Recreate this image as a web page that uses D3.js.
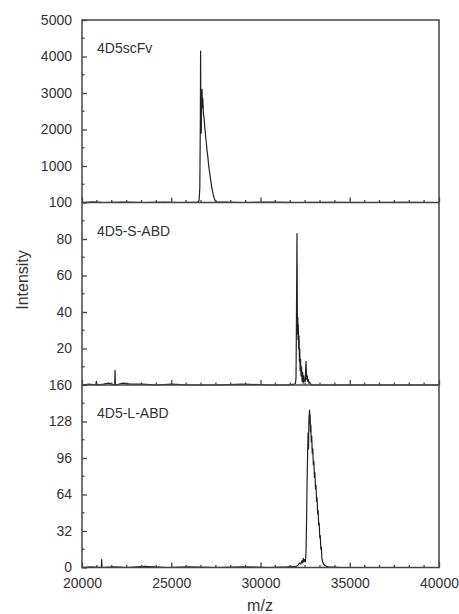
<!DOCTYPE html>
<html>
<head>
<meta charset="utf-8">
<script src="https://cdn.jsdelivr.net/npm/d3@7"></script>
<style>
  body { margin:0; background:#fff; }
  text { font-family: "Liberation Sans", Arial, sans-serif; fill:#333; }
</style>
</head>
<body>
<div id="chart"></div>
<script>
// m/z and intensity
let scfvMz  = [20000,20600,21200,22400,23500,24600,25500,26200,26500,26560,26600,26630,26645,26660,26680,26700,26725,26745,26770,26800,26840,26880,26920,26960,27000,27050,27100,27150,27200,27250,27300,27350,27400,27450,27520,28000,29000,30500,32000,34000,36000,38000,40000]
let scfvInt = [0,15,0,10,0,12,0,5,10,60,400,2200,4150,2400,1900,2700,3100,2600,2850,2450,2300,2050,1850,1650,1450,1250,1000,820,640,480,340,220,130,60,15,8,0,10,0,5,0,5,0]

let sAbdMz  = [20000,20400,20780,20800,20820,21200,21500,21830,21850,21870,22300,22700,23400,24200,25000,26000,27500,29000,30500,31500,31900,31960,31990,32010,32030,32045,32060,32075,32090,32105,32120,32140,32160,32180,32200,32220,32245,32270,32300,32330,32360,32390,32420,32450,32480,32510,32530,32550,32570,32595,32620,32650,32680,32710,32750,32800,32900,33500,35000,37000,40000]
let sAbdInt = [0,0.5,0,2,0,0.5,1,0,8,0,1,0.5,0.5,0,0.5,0,0,0.5,0,0,0.5,1,4,30,62,83,46,28,37,25,33,20,27,13,20,8,14,5,10,2,7,1,5,2,3,2,9,13,7,3,5,2,3,1,1.5,0.5,0,0,0,0,0]

let lAbdMz  = [20000,20500,21080,21100,21120,21800,22500,23500,24800,26000,27500,29000,30500,31500,32000,32100,32200,32260,32320,32360,32400,32440,32480,32520,32550,32580,32610,32640,32665,32690,32710,32730,32750,32765,32780,32800,32820,32845,32870,32900,32930,32960,32990,33020,33050,33080,33110,33140,33170,33200,33230,33260,33290,33320,33350,33380,33410,33440,33480,33530,33600,33700,33800,34500,36000,38000,40000]
let lAbdInt = [0,0.5,0,7,0,0.5,0,1,0,0.5,0,0.5,0,0.5,1,2,4,3,6,4,8,5,7,5,14,40,75,100,118,104,128,134,138,126,134,119,125,110,115,100,104,90,93,79,83,69,72,58,61,47,50,37,39,26,28,16,18,8,5,3,2,1,0.5,0,0,0,0]

let panelLabels = ["4D5scFv","4D5-S-ABD","4D5-L-ABD"]
let yMaxes   = [5000,100,160]
let yMajors  = [1000,20,32]
let yLabeled = [[1000,2000,3000,4000,5000],[20,40,60,80,100],[0,32,64,96,128,160]]
let xMajorTicks = [20000,25000,30000,35000,40000]

let series = [
  scfvMz.map((m,i)=>({mz:m, v:scfvInt[i]})),
  sAbdMz.map((m,i)=>({mz:m, v:sAbdInt[i]})),
  lAbdMz.map((m,i)=>({mz:m, v:lAbdInt[i]}))
]

let width = 459, height = 614,
    plotLeft = 82, plotRight = 439, plotTop = 20, panelH = 182.5

let svg = d3.select("#chart").append("svg").attr("width",width).attr("height",height)

let xScale = d3.scaleLinear().domain([20000,40000]).range([plotLeft,plotRight])
let xMinor = d3.range(0,25).map(i => 20000 + i*5000/6).filter(v => xMajorTicks.indexOf(Math.round(v)) < 0)

series.forEach((data,p)=>{
  let y0 = plotTop + panelH*p, y1 = y0 + panelH
  let yScale = d3.scaleLinear().domain([0,yMaxes[p]]).range([y1,y0])
  let g = svg.append("g")

  // spectrum
  let line = d3.line().x(d=>xScale(d.mz)).y(d=>yScale(d.v))
  g.append("path")
    .attr("d",line(data))
    .attr("fill","none")
    .attr("stroke","#222")
    .attr("stroke-width",1.2)
    .attr("stroke-linejoin","round")

  // bottom ticks (inside)
  let xAxis = d3.axisBottom(xScale).tickValues(xMajorTicks).tickSize(-5).tickPadding(10.5)
  if (p < 2) xAxis.tickFormat("")
  else xAxis.tickFormat(d3.format("d"))
  let xg = g.append("g").attr("transform",`translate(0,${y1})`).call(xAxis)
  xg.select(".domain").remove()
  xg.selectAll("line").attr("stroke","#444").attr("stroke-width",1.3)
  xg.selectAll("text").style("font-size","14px").attr("fill","#333")
    .style("font-family",'"Liberation Sans", Arial, sans-serif')
  g.append("g").selectAll("line").data(xMinor).enter().append("line")
    .attr("x1",d=>xScale(d)).attr("x2",d=>xScale(d))
    .attr("y1",y1).attr("y2",y1-2.5)
    .attr("stroke","#444").attr("stroke-width",1.3)

  // left ticks (inside)
  let yAxis = d3.axisLeft(yScale).tickValues(yLabeled[p]).tickFormat(d3.format("d")).tickSize(-5).tickPadding(10)
  let yg = g.append("g").attr("transform",`translate(${plotLeft},0)`).call(yAxis)
  yg.select(".domain").remove()
  yg.selectAll("line").attr("stroke","#444").attr("stroke-width",1.3)
  yg.selectAll("text").style("font-size","14px").attr("fill","#333")
    .style("font-family",'"Liberation Sans", Arial, sans-serif')
  let yMin = d3.range(0,5).map(i => yMajors[p]*(i+0.5))
  g.append("g").selectAll("line").data(yMin).enter().append("line")
    .attr("x1",plotLeft).attr("x2",plotLeft+2.5)
    .attr("y1",d=>yScale(d)).attr("y2",d=>yScale(d))
    .attr("stroke","#444").attr("stroke-width",1.3)

  g.append("text").attr("x",plotLeft+15).attr("y",y0+33)
    .style("font-size","14px").text(panelLabels[p])
})

// frame and panel separators
svg.append("rect").attr("x",plotLeft).attr("y",plotTop).attr("width",plotRight-plotLeft).attr("height",panelH*3)
  .attr("fill","none").attr("stroke","#444").attr("stroke-width",1.5)
;[1,2].forEach(i=>{
  svg.append("line").attr("x1",plotLeft).attr("x2",plotRight)
    .attr("y1",plotTop+panelH*i).attr("y2",plotTop+panelH*i)
    .attr("stroke","#444").attr("stroke-width",1.5)
})

svg.append("text").attr("transform","translate(28,280) rotate(-90)")
  .attr("text-anchor","middle").style("font-size","16px").text("Intensity")
svg.append("text").attr("x",260).attr("y",611)
  .attr("text-anchor","middle").style("font-size","16px").text("m/z")
</script>
</body>
</html>
